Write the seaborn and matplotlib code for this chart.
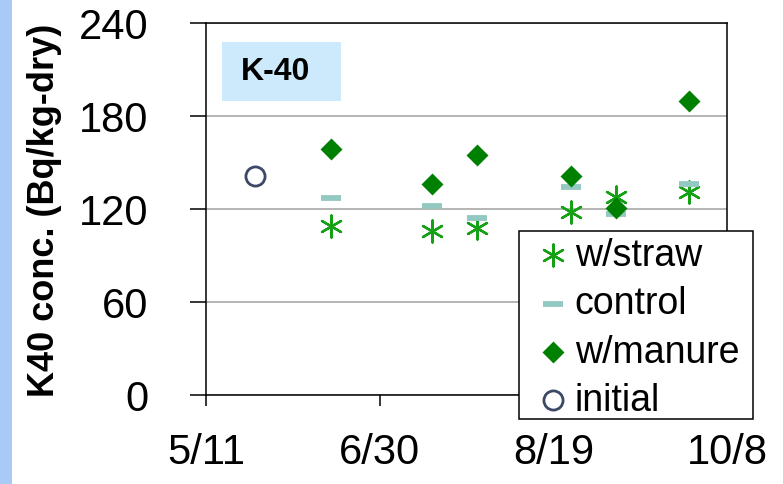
import matplotlib
matplotlib.use("Agg")
import matplotlib.pyplot as plt
import matplotlib.patches as mpatches
import seaborn as sns
import pandas as pd

# ---- data ----
sample_dates = ["2011-06-16", "2011-07-15", "2011-07-28", "2011-08-24", "2011-09-06", "2011-09-27"]
straw = [109, 106, 107.5, 118, 127.5, 131]
control = [127, 122, 114, 134.5, 117, 136]
manure = [159, 136, 155, 141, 120.5, 190]
initial_dates = ["2011-05-25"]
initial = [141]
tick_dates = ["2011-05-11", "2011-06-30", "2011-08-19", "2011-10-08"]
tick_labels = ["5/11", "6/30", "8/19", "10/8"]
y_ticks = [0, 60, 120, 180, 240]

sns.set_theme(style="white")
plt.rcParams["font.family"] = ["Liberation Sans", "DejaVu Sans"]
plt.rcParams["text.color"] = "black"
plt.rcParams["axes.labelcolor"] = "black"
plt.rcParams["xtick.color"] = "black"
plt.rcParams["ytick.color"] = "black"

fig = plt.figure(figsize=(7.83, 4.85), dpi=100)
ax = fig.add_axes([206 / 783, 1 - 396 / 485, 521 / 783, 372 / 485])

# left stripe
fig.patches.append(mpatches.Rectangle((0, 0), 12 / 783, 1, transform=fig.transFigure,
                                      facecolor="#a9c9f6", edgecolor="none", zorder=0))

df_s = pd.DataFrame({"date": pd.to_datetime(sample_dates), "v": straw})
df_c = pd.DataFrame({"date": pd.to_datetime(sample_dates), "v": control})
df_m = pd.DataFrame({"date": pd.to_datetime(sample_dates), "v": manure})
df_i = pd.DataFrame({"date": pd.to_datetime(initial_dates), "v": initial})

sns.scatterplot(data=df_s, x="date", y="v", ax=ax, marker=(6, 2, 0), s=250,
                color="#16a016", linewidth=1.7, label="w/straw", zorder=3)
sns.scatterplot(data=df_c, x="date", y="v", ax=ax, marker="_", s=210,
                color="#93c9c2", linewidth=4.2, label="control", zorder=3)
sns.scatterplot(data=df_m, x="date", y="v", ax=ax, marker="D", s=125,
                color="#008000", edgecolor="#008000", linewidth=0, label="w/manure", zorder=4)
sns.scatterplot(data=df_i, x="date", y="v", ax=ax, marker="o", s=190,
                facecolor="white", edgecolor="#3b4866", linewidth=2, label="initial", zorder=4)

ax.set_xlim(pd.Timestamp(tick_dates[0]), pd.Timestamp(tick_dates[-1]))
ax.set_ylim(y_ticks[0], y_ticks[-1])
ax.set_xticks(pd.to_datetime(tick_dates))
ax.set_xticklabels(tick_labels)
ax.set_yticks(y_ticks)
ax.set_yticklabels([str(v) for v in y_ticks])

ax.grid(axis="y", color="#a0a0a0", linewidth=1.1)
ax.grid(axis="x", visible=False)
for sp in ax.spines.values():
    sp.set_color("black")
    sp.set_linewidth(1.1)
    sp.set_visible(True)

ax.tick_params(axis="y", direction="out", length=11.5, width=1.1, color="black",
               labelsize=30, pad=30, left=True, labelcolor="black")
ax.tick_params(axis="x", direction="out", length=8, width=1.1, color="black",
               labelsize=30, pad=19, bottom=True, labelcolor="black")

ax.set_xlabel("")
ax.set_ylabel("K40 conc. (Bq/kg-dry)", fontsize=26, fontweight="bold", color="black")
ax.yaxis.set_label_coords(-0.276, 0.5)

# K-40 label box
ax.add_patch(mpatches.Rectangle((16 / 521, 294 / 372), 119 / 521, 59 / 372,
                                transform=ax.transAxes, facecolor="#cceafc",
                                edgecolor="none", zorder=2))
ax.text((275.5 - 206) / 521, (294 + 29.5) / 372, "K-40", transform=ax.transAxes,
        ha="center", va="center", fontsize=23, fontweight="bold", color="black", zorder=3)

# legend: frame drawn as a figure rectangle, entries as a frameless figure legend
handles, labels = ax.get_legend_handles_labels()
if ax.get_legend() is not None:
    ax.get_legend().remove()
fig.patches.append(mpatches.Rectangle((519 / 783, 1 - 420 / 485), 234 / 783, 188 / 485,
                                      transform=fig.transFigure, facecolor="white",
                                      edgecolor="black", linewidth=1.1, zorder=3))
leg = fig.legend(handles, labels, loc="upper left",
                 bbox_to_anchor=(534 / 783, 1 - 238 / 485), bbox_transform=fig.transFigure,
                 frameon=False, fontsize=27, markerscale=1.0, handlelength=1.0,
                 handletextpad=0.09, labelspacing=0.33, borderpad=0, borderaxespad=0)
leg.set_zorder(6)
for t in leg.get_texts():
    t.set_color("black")

fig.savefig("out.png", dpi=100)
